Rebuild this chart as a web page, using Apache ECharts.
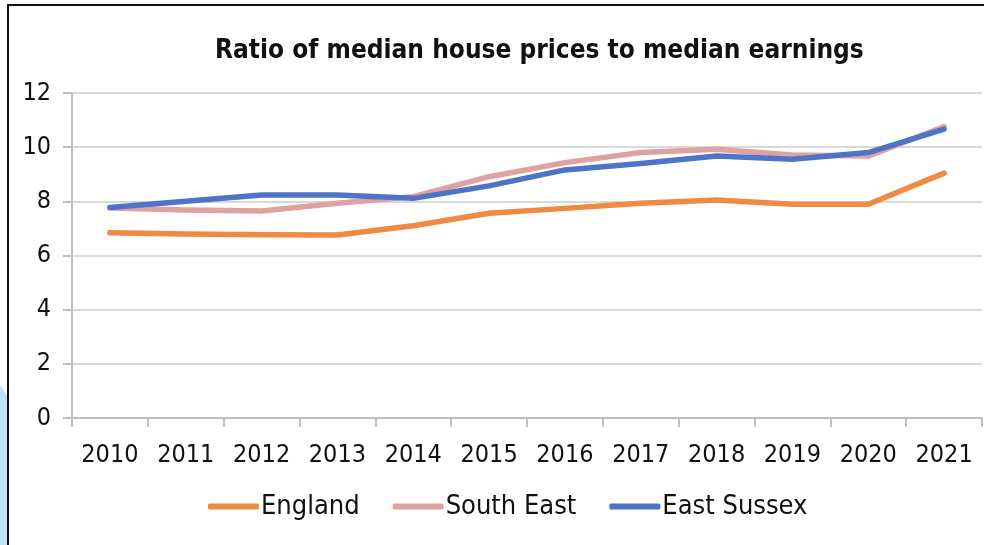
<!DOCTYPE html>
<html>
<head>
<meta charset="utf-8">
<script src="https://cdn.jsdelivr.net/npm/echarts@6/dist/echarts.min.js"></script>
<style>
    html, body { margin: 0; padding: 0; background: #fff; }
    #main { width: 984px; height: 545px; }
</style>
</head>
<body>
<div id="main"></div>
<script>
    var years = ['2010', '2011', '2012', '2013', '2014', '2015', '2016', '2017', '2018', '2019', '2020', '2021'];
    var england = [6.84, 6.79, 6.77, 6.76, 7.10, 7.56, 7.74, 7.93, 8.05, 7.89, 7.89, 9.04];
    var southEast = [7.75, 7.68, 7.64, 7.93, 8.17, 8.91, 9.43, 9.80, 9.92, 9.71, 9.67, 10.76];
    var eastSussex = [7.77, 8.00, 8.23, 8.23, 8.11, 8.57, 9.16, 9.40, 9.67, 9.55, 9.80, 10.67];

    var fontFam = '"DejaVu Sans Condensed", "DejaVu Sans", sans-serif';
    var chartDom = document.getElementById('main');
    var myChart = echarts.init(chartDom);
    var option;

    function lineSeries(name, data, color) {
        return {
            name: name,
            type: 'line',
            data: data,
            symbol: 'none',
            lineStyle: { width: 5.5, color: color, cap: 'round', join: 'round' },
            itemStyle: { color: color }
        };
    }

    option = {
        animation: false,
        backgroundColor: '#fff',
        title: {
            text: 'Ratio of median house prices to median earnings',
            left: 210,
            top: 33,
            textStyle: {
                fontFamily: fontFam,
                fontSize: 26,
                fontWeight: 'bold',
                color: '#111'
            }
        },
        legend: {
            bottom: 20,
            left: 203,
            itemWidth: 51,
            itemHeight: 6,
            itemGap: 33,
            icon: 'roundRect',
            textStyle: { fontFamily: fontFam, fontSize: 27, color: '#111', padding: [0, 0, 0, -3] },
            data: ['England', 'South East', 'East Sussex']
        },
        grid: {
            left: 72,
            right: 2,
            top: 93,
            bottom: 127,
            containLabel: false
        },
        xAxis: {
            type: 'category',
            data: years,
            boundaryGap: true,
            axisLine: { lineStyle: { color: '#bfbfbf', width: 2 } },
            axisTick: { show: true, length: 9, lineStyle: { color: '#bfbfbf', width: 2 } },
            axisLabel: { fontFamily: fontFam, fontSize: 25, color: '#111', margin: 25 }
        },
        yAxis: {
            type: 'value',
            min: 0,
            max: 12,
            interval: 2,
            axisLine: { show: true, lineStyle: { color: '#bfbfbf', width: 2 } },
            axisTick: { show: true, length: 9, lineStyle: { color: '#bfbfbf', width: 2 } },
            axisLabel: { fontFamily: fontFam, fontSize: 25, color: '#111', margin: 21 },
            splitLine: { lineStyle: { color: '#d9d9d9', width: 2 } }
        },
        graphic: [
            // light blue shape peeking in at the left edge
            {
                type: 'polygon',
                shape: { points: [[0, 385], [7, 395], [7, 545], [0, 545]] },
                style: { fill: '#bfe4f6' }
            },
            // frame round the chart
            {
                type: 'polyline',
                shape: { points: [[8, 545], [8, 5], [984, 5]] },
                style: { stroke: '#111', lineWidth: 2, fill: null }
            }
        ],
        series: [
            lineSeries('England', england, '#ee8a42'),
            lineSeries('South East', southEast, '#dfa2a2'),
            lineSeries('East Sussex', eastSussex, '#4f74c6')
        ]
    };

    option && myChart.setOption(option);
</script>
</body>
</html>
